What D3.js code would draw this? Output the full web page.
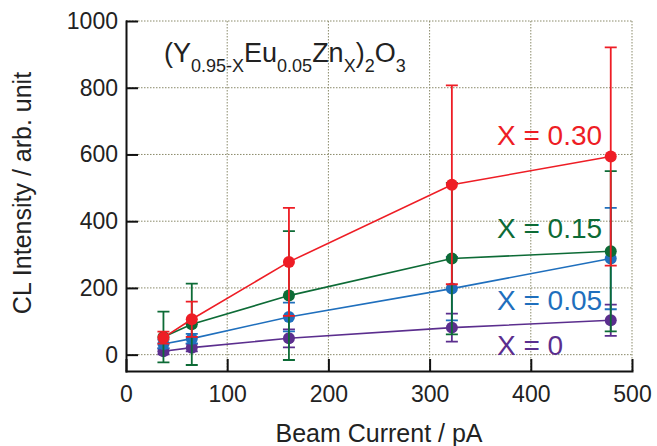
<!DOCTYPE html>
<meta charset="utf-8">
<style>
body { margin: 0; background: #fff; }
svg { font-family: "Liberation Sans", Arial, sans-serif; }
.grid line { stroke: #8a8a6a; stroke-width: 1; stroke-dasharray: 1.5,1.5; }
.axis path, .axis line { stroke: #111; stroke-width: 2; }
.axis text { font-size: 23px; fill: #222; }
.title { font-size: 25px; fill: #222; }
</style>
<svg width="657" height="446"></svg>
<script src="https://d3js.org/d3.v7.min.js"></script>
<script>
var current = [37, 65, 161, 322, 479];

var x0val = [10, 21, 49, 81, 103],   x0err = [9, 11, 27, 42, 47];
var x05val = [32, 48, 113, 198, 288], x05err = [13, 14, 43, 95, 152];
var x15val = [53, 91, 177, 288, 310], x15err = [76, 122, 193, 227, 240];
var x30val = [51, 106, 278, 509, 594], x30err = [18, 53, 162, 298, 327];

var labels = ["X = 0", "X = 0.05", "X = 0.15", "X = 0.30"];
var colors = ["#5b2e8e", "#1f6fbd", "#0d6b36", "#ee1d25"];
var labelY = [355, 310, 238, 145];

var series = [
  {val: x0val, err: x0err},
  {val: x05val, err: x05err},
  {val: x15val, err: x15err},
  {val: x30val, err: x30err}
];

var svg = d3.select("svg");

var x = d3.scaleLinear().domain([0, 500]).range([126, 632]);
var y = d3.scaleLinear().domain([-49, 1000]).range([371, 21]);

var xticks = [0, 100, 200, 300, 400, 500];
var yticks = [0, 200, 400, 600, 800, 1000];

// grid
var grid = svg.append("g").attr("class", "grid");
grid.selectAll(".gy").data(yticks).enter().append("line")
  .attr("x1", x(0)).attr("x2", x(500))
  .attr("y1", function(d) { return y(d); }).attr("y2", function(d) { return y(d); });
grid.selectAll(".gx").data(xticks.slice(1)).enter().append("line")
  .attr("x1", function(d) { return x(d); }).attr("x2", function(d) { return x(d); })
  .attr("y1", y(1000)).attr("y2", y(-49));

// axes
svg.append("g").attr("class", "axis")
  .attr("transform", "translate(" + x(0) + ",0)")
  .call(d3.axisLeft(y).tickValues(yticks).tickFormat(d3.format("d"))
    .tickSizeInner(-12).tickSizeOuter(0).tickPadding(8));
svg.append("g").attr("class", "axis")
  .attr("transform", "translate(0," + y(-49) + ")")
  .call(d3.axisBottom(x).tickValues(xticks).tickFormat(d3.format("d"))
    .tickSizeInner(-12).tickSizeOuter(0).tickPadding(15));
svg.selectAll(".axis .domain").attr("stroke-linecap", "square");

// series
var line = d3.line().x(function(d) { return x(d[0]); }).y(function(d) { return y(d[1]); });
series.forEach(function(s, i) {
  var g = svg.append("g");
  var c = colors[i];
  var pts = current.map(function(cx, j) { return [cx, s.val[j], s.err[j]]; });
  g.selectAll(".eb").data(pts).enter().append("path")
    .attr("fill", "none").attr("stroke", c).attr("stroke-width", 1.8)
    .attr("d", function(d) {
      var px = x(d[0]), t = y(d[1] + d[2]), b = y(d[1] - d[2]);
      return "M" + (px - 6) + "," + t + "H" + (px + 6) +
             "M" + px + "," + t + "V" + b +
             "M" + (px - 6) + "," + b + "H" + (px + 6);
    });
  g.append("path").datum(pts)
    .attr("fill", "none").attr("stroke", c).attr("stroke-width", 1.6)
    .attr("d", line);
  g.selectAll("circle").data(pts).enter().append("circle")
    .attr("cx", function(d) { return x(d[0]); })
    .attr("cy", function(d) { return y(d[1]); })
    .attr("r", 6).attr("fill", c);
});

// series labels
svg.selectAll(".lab").data(labels).enter().append("text")
  .attr("x", 497).attr("y", function(d, i) { return labelY[i]; })
  .attr("fill", function(d, i) { return colors[i]; })
  .style("font-size", "28px")
  .text(function(d) { return d; });

// formula
var f = svg.append("text").attr("x", 164).attr("y", 62).attr("fill", "#222");
var parts = [["(Y", 0], ["0.95-X", 1], ["Eu", 0], ["0.05", 1], ["Zn", 0], ["X", 1], [")", 0], ["2", 1], ["O", 0], ["3", 1]];
var prev = 0;
parts.forEach(function(p) {
  f.append("tspan")
    .attr("dy", p[1] === prev ? 0 : (p[1] ? 10 : -10))
    .style("font-size", p[1] ? "18px" : "27px")
    .text(p[0]);
  prev = p[1];
});

// axis titles
svg.append("text").attr("class", "title")
  .attr("x", 379).attr("y", 442).attr("text-anchor", "middle")
  .text("Beam Current / pA");
svg.append("text").attr("class", "title")
  .attr("transform", "translate(31,193) rotate(-90)").attr("text-anchor", "middle")
  .text("CL Intensity / arb. unit");
</script>
